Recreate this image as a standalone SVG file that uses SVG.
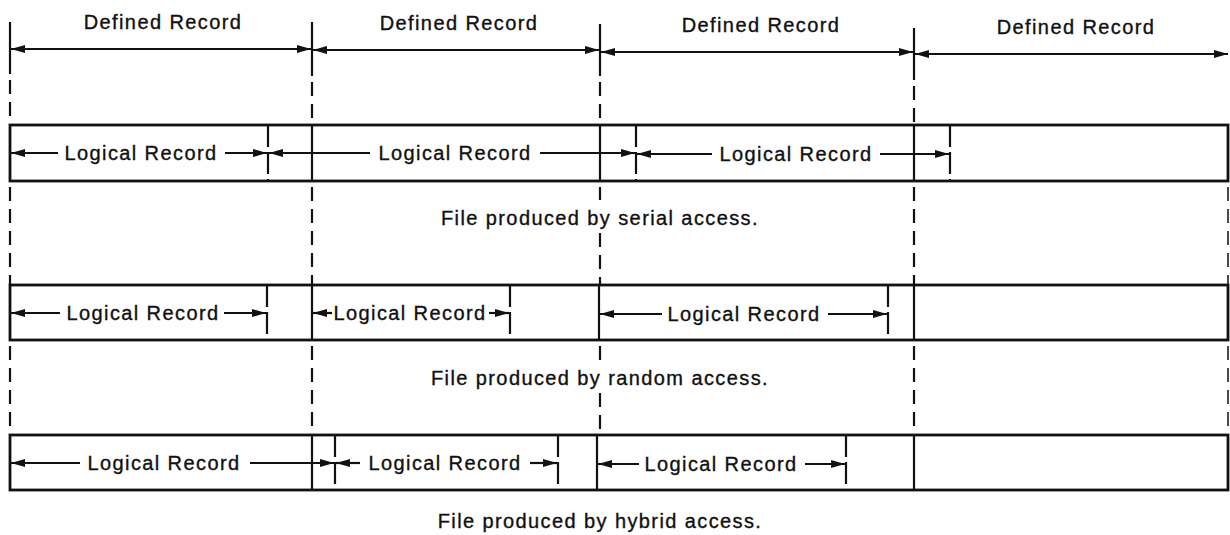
<svg xmlns="http://www.w3.org/2000/svg" width="1230" height="535" viewBox="0 0 1230 535">
<style>
text{font-family:"Liberation Sans",Arial,sans-serif;font-size:20px;letter-spacing:1.4px;fill:#111;stroke:#111;stroke-width:0.35;text-anchor:middle}
.box{fill:#fff;stroke:#111;stroke-width:2.8}
.solid{stroke:#111;stroke-width:2.2;fill:none}
.dash{stroke:#111;stroke-width:2.2;fill:none;stroke-dasharray:14 8}
.lr{stroke:#111;stroke-width:2.2;fill:none;stroke-dasharray:22 5}
.arr{stroke:#111;stroke-width:2.2;fill:none;marker-end:url(#ah)}
.dim{stroke:#111;stroke-width:2.2;fill:none;marker-start:url(#ah);marker-end:url(#ah)}
</style>
<defs>
<marker id="ah" viewBox="0 0 14 8" refX="14" refY="4" markerWidth="14" markerHeight="8" markerUnits="userSpaceOnUse" orient="auto-start-reverse">
<path d="M0,0 L14,4 L0,8 z" fill="#111"/>
</marker>
</defs>
<rect width="1230" height="535" fill="#fff"/>

<g id="defined-records">
<line class="solid" x1="10" y1="22" x2="10" y2="74"/>
<line class="solid" x1="312" y1="22" x2="312" y2="76"/>
<line class="solid" x1="600" y1="24" x2="600" y2="76"/>
<line class="solid" x1="914" y1="28" x2="914" y2="80"/>
<text x="163" y="29">Defined Record</text>
<text x="459" y="30">Defined Record</text>
<text x="761" y="32">Defined Record</text>
<text x="1076" y="34">Defined Record</text>
</g>

<g id="guides">
<path class="dash" d="M10,80 V125 M10,187 V285 M10,346 V435"/>
<path class="dash" d="M312,82 V125 M312,187 V285 M312,346 V435"/>
<path class="dash" d="M600,82 V125 M600,187 V200 M600,233 V285 M600,346 V360 M600,393 V435"/>
<path class="dash" d="M914,86 V125 M914,187 V285 M914,346 V435"/>
<path class="dash" d="M1228,187 V285 M1228,346 V435" style="stroke-width:1.5"/>
</g>

<g id="serial-file">
<rect class="box" x="10" y="125" width="1218" height="56"/>
<line class="solid" x1="312" y1="125" x2="312" y2="181"/>
<line class="solid" x1="600" y1="125" x2="600" y2="181"/>
<line class="solid" x1="914" y1="125" x2="914" y2="181"/>
<line class="lr" x1="268" y1="125" x2="268" y2="181"/>
<line class="lr" x1="636" y1="125" x2="636" y2="181"/>
<line class="lr" x1="950" y1="125" x2="950" y2="181"/>
<text x="141" y="160">Logical Record</text>
<text x="455" y="160">Logical Record</text>
<text x="796" y="161">Logical Record</text>
<text x="600" y="225">File produced by serial access.</text>
</g>

<g id="random-file">
<rect class="box" x="10" y="285" width="1218" height="55"/>
<line class="solid" x1="312" y1="285" x2="312" y2="340"/>
<line class="solid" x1="599" y1="285" x2="599" y2="340"/>
<line class="solid" x1="914" y1="285" x2="914" y2="340"/>
<line class="lr" x1="267" y1="285" x2="267" y2="340"/>
<line class="lr" x1="510" y1="285" x2="510" y2="340"/>
<line class="lr" x1="888" y1="285" x2="888" y2="340"/>
<text x="143" y="320">Logical Record</text>
<text x="410" y="320">Logical Record</text>
<text x="744" y="321">Logical Record</text>
<text x="600" y="385">File produced by random access.</text>
</g>

<g id="hybrid-file">
<rect class="box" x="10" y="435" width="1218" height="55"/>
<line class="solid" x1="312" y1="435" x2="312" y2="490"/>
<line class="solid" x1="597" y1="435" x2="597" y2="490"/>
<line class="solid" x1="914" y1="435" x2="914" y2="490"/>
<line class="lr" x1="335" y1="435" x2="335" y2="490"/>
<line class="lr" x1="558" y1="435" x2="558" y2="490"/>
<line class="lr" x1="846" y1="435" x2="846" y2="490"/>
<text x="164" y="470">Logical Record</text>
<text x="445" y="470">Logical Record</text>
<text x="721" y="471">Logical Record</text>
<text x="600" y="528">File produced by hybrid access.</text>
</g>

<g id="connectors">
<line class="dim" x1="11" y1="49" x2="311" y2="49"/>
<line class="dim" x1="313" y1="50" x2="599" y2="50"/>
<line class="dim" x1="601" y1="52" x2="913" y2="52"/>
<line class="dim" x1="915" y1="54" x2="1228" y2="54"/>

<path class="arr" d="M58,153 H11"/>
<path class="arr" d="M225,153 H267"/>
<path class="arr" d="M370,153 H269"/>
<path class="arr" d="M540,153 H635"/>
<path class="arr" d="M712,154 H637"/>
<path class="arr" d="M880,154 H949"/>

<path class="arr" d="M60,313 H11"/>
<path class="arr" d="M224,313 H266"/>
<path class="arr" d="M332,313 H313"/>
<path class="arr" d="M489,313 H509"/>
<path class="arr" d="M662,314 H600"/>
<path class="arr" d="M828,314 H887"/>

<path class="arr" d="M80,463 H11"/>
<path class="arr" d="M250,463 H334"/>
<path class="arr" d="M360,463 H336"/>
<path class="arr" d="M530,463 H557"/>
<path class="arr" d="M639,464 H598"/>
<path class="arr" d="M805,464 H845"/>
</g>
</svg>
